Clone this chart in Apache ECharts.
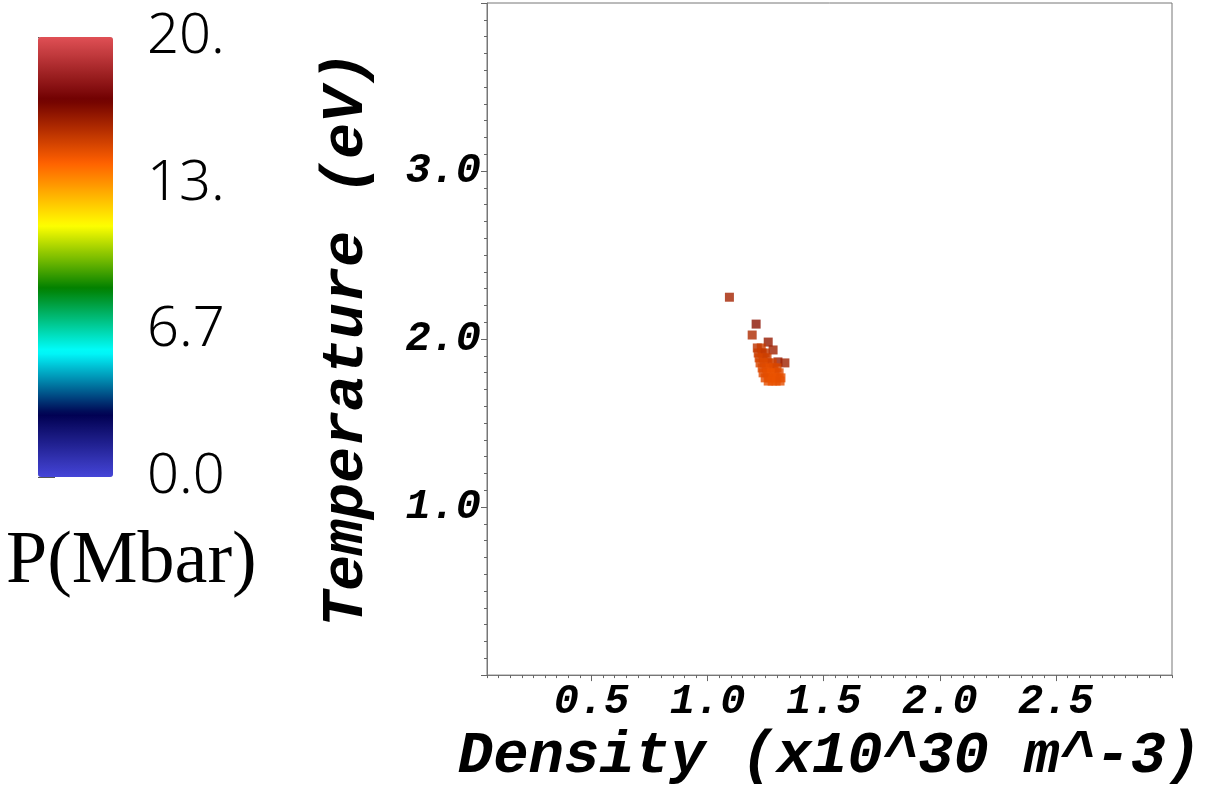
<!DOCTYPE html>
<html>
<head>
<meta charset="utf-8">
<script src="https://cdn.jsdelivr.net/npm/echarts@6/dist/echarts.min.js"></script>
<style>
html, body { margin: 0; padding: 0; background: #fff; }
#main { width: 1207px; height: 792px; }
</style>
</head>
<body>
<div id="main"></div>
<script>
// density (x10^30 m^-3), temperature (eV), pressure (Mbar)
var density = [
  1.094, 1.209, 1.192, 1.261, 1.282, 1.303, 1.333,
  1.214, 1.231,
  1.218, 1.235, 1.248,
  1.222, 1.239, 1.256,
  1.226, 1.244, 1.261, 1.278,
  1.235, 1.252, 1.269, 1.286, 1.299,
  1.239, 1.256, 1.274, 1.291, 1.308,
  1.248, 1.265, 1.282, 1.299, 1.316,
  1.261, 1.278, 1.295, 1.312
];
var temperature = [
  2.249, 2.089, 2.024, 1.982, 1.935, 1.864, 1.858,
  1.947, 1.947,
  1.917, 1.917, 1.917,
  1.888, 1.888, 1.888,
  1.858, 1.858, 1.858, 1.858,
  1.828, 1.828, 1.828, 1.828, 1.828,
  1.799, 1.799, 1.799, 1.799, 1.799,
  1.769, 1.769, 1.769, 1.769, 1.769,
  1.750, 1.750, 1.750, 1.750
];
var pressure = [
  16.1, 16.6, 15.9, 16.4, 16.2, 16.3, 16.2,
  15.6, 15.4,
  15.4, 15.3, 15.5,
  15.2, 15.1, 15.3,
  15.1, 15.0, 15.0, 15.2,
  15.0, 14.9, 14.8, 14.9, 15.1,
  14.9, 14.8, 14.7, 14.7, 14.9,
  14.9, 14.8, 14.7, 14.7, 14.8,
  14.8, 14.7, 14.7, 14.8
];

var xTicks = [0.5, 1.0, 1.5, 2.0, 2.5];
var yTicks = [1.0, 2.0, 3.0];
var cbarTicks = [0, 6.6667, 13.3333, 20];
var cbarLabels = ['0.0', '6.7', '13.', '20.'];
var cbarColors = ['#4545d8', '#000050', '#00ffff', '#008000', '#ffff00', '#ff6000', '#700000', '#e05055'];

var points = [];
for (var i = 0; i < density.length; i++) {
  points.push([density[i], temperature[i], pressure[i]]);
}

var monoFont = {
  fontFamily: 'Liberation Mono',
  fontWeight: 'bold',
  fontStyle: 'italic',
  color: '#000'
};

var myChart = echarts.init(document.getElementById('main'));

var option = {
  animation: false,
  title: {
    text: 'P(Mbar)',
    left: 6,
    top: 526,
    padding: 0,
    textStyle: {
      fontFamily: 'Liberation Serif',
      fontWeight: 'normal',
      fontSize: 74,
      color: '#000'
    }
  },
  grid: [
    {
      left: 487, right: 35, top: 3, bottom: 112,
      show: true, borderColor: '#777', borderWidth: 1
    },
    { left: 38, top: 37, width: 75, height: 440 }
  ],
  xAxis: [
    { // minor ticks
      type: 'value', gridIndex: 0,
      min: 0.05, max: 3.0, interval: 0.05,
      axisLine: { lineStyle: { color: '#777' } },
      axisTick: { length: 3, lineStyle: { color: '#666' } },
      axisLabel: { show: false },
      splitLine: { show: false }
    },
    { // major ticks + labels
      type: 'value', gridIndex: 0, position: 'bottom',
      min: 0.05, max: 3.0,
      name: 'Density (x10^30 m^-3)',
      nameLocation: 'middle',
      nameGap: 44,
      nameTextStyle: Object.assign({ fontSize: 59 }, monoFont),
      axisLine: { show: false },
      axisTick: { length: 6, customValues: xTicks, lineStyle: { color: '#666' } },
      axisLabel: {
        customValues: xTicks,
        margin: 6,
        fontSize: 42,
        fontFamily: 'Liberation Mono', fontWeight: 'bold', fontStyle: 'italic', color: '#000',
        formatter: function (v) { return v.toFixed(1); }
      },
      splitLine: { show: false }
    },
    { type: 'value', gridIndex: 1, min: 0, max: 1, show: false }
  ],
  yAxis: [
    {
      type: 'value', gridIndex: 0,
      min: 0, max: 4, interval: 1,
      name: 'Temperature (eV)',
      nameLocation: 'middle',
      nameGap: 110,
      nameTextStyle: Object.assign({ fontSize: 60 }, monoFont),
      axisLine: { show: true, lineStyle: { color: '#777' } },
      axisTick: { show: true, length: 6, lineStyle: { color: '#666' } },
      minorTick: { show: true, splitNumber: 10, length: 3, lineStyle: { color: '#666' } },
      axisLabel: {
        customValues: yTicks,
        margin: 6,
        fontSize: 42,
        fontFamily: 'Liberation Mono', fontWeight: 'bold', fontStyle: 'italic', color: '#000',
        formatter: function (v) { return v.toFixed(1); }
      },
      splitLine: { show: false },
      minorSplitLine: { show: false }
    },
    { // colorbar ticks and labels
      type: 'value', gridIndex: 1, position: 'right',
      min: 0, max: 20,
      axisLine: { show: false },
      axisTick: { show: true, length: 17, customValues: cbarTicks, lineStyle: { color: '#555' } },
      axisLabel: {
        customValues: cbarTicks,
        margin: 34,
        fontSize: 56,
        fontFamily: 'Noto Sans',
        fontWeight: 300,
        color: '#000',
        formatter: function (v) {
          for (var k = 0; k < cbarTicks.length; k++) {
            if (Math.abs(cbarTicks[k] - v) < 0.01) return cbarLabels[k];
          }
          return '';
        }
      },
      splitLine: { show: false }
    }
  ],
  visualMap: {
    type: 'continuous',
    seriesIndex: 0,
    dimension: 2,
    min: 0,
    max: 20,
    calculable: false,
    hoverLink: false,
    orient: 'vertical',
    left: 38,
    top: 37,
    itemWidth: 75,
    itemHeight: 440,
    padding: 0,
    text: null,
    inRange: { color: cbarColors }
  },
  series: [
    {
      type: 'scatter',
      xAxisIndex: 0,
      yAxisIndex: 0,
      symbol: 'rect',
      symbolSize: 9,
      data: points
    }
  ]
};

myChart.setOption(option);
</script>
</body>
</html>
